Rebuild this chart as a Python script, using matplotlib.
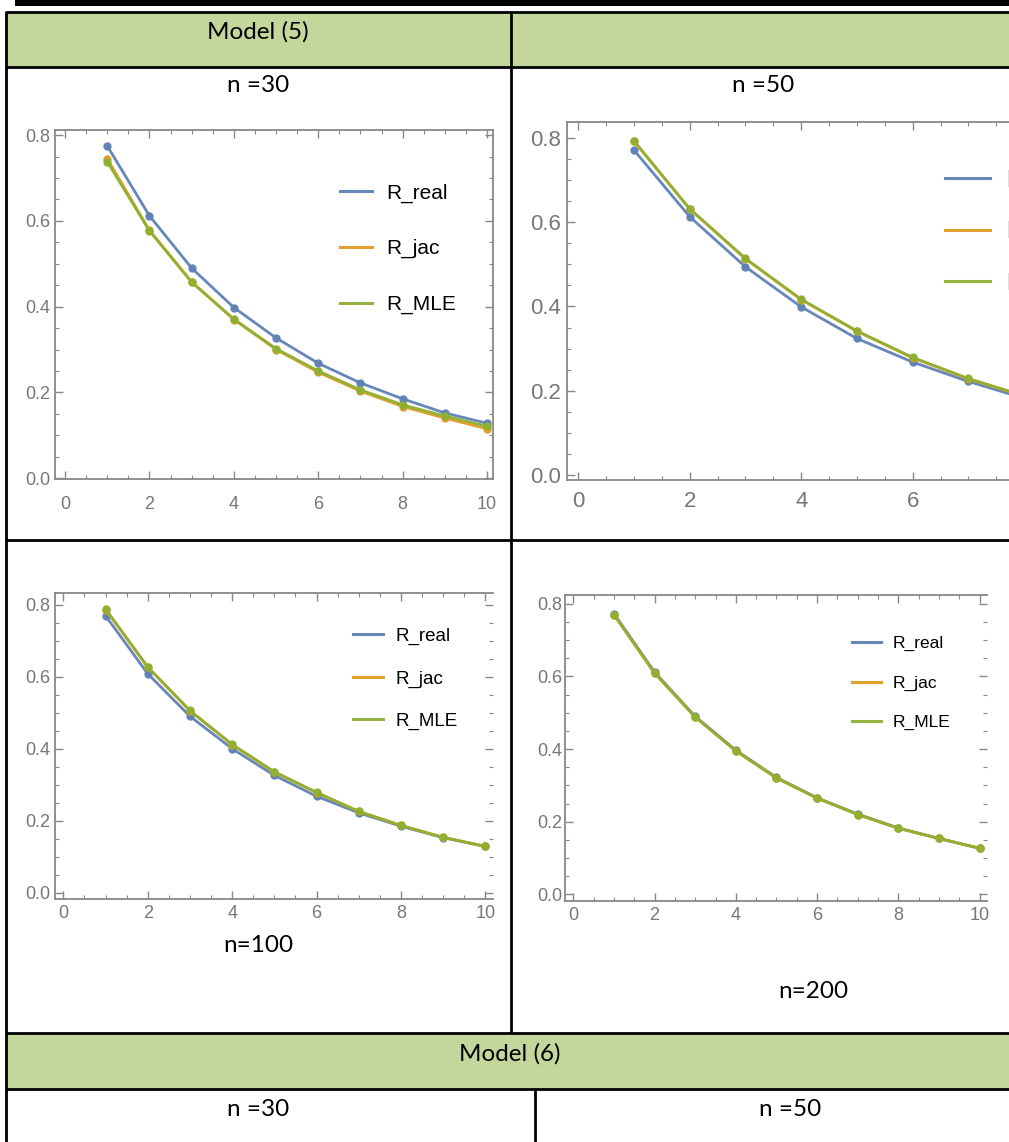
import matplotlib
matplotlib.use('Agg')
import matplotlib.pyplot as plt
from matplotlib.ticker import MultipleLocator, FuncFormatter
from matplotlib.patches import Rectangle

W, H = 1009, 1142

# reliability curves R(t), t = 1..10
t = [1, 2, 3, 4, 5, 6, 7, 8, 9, 10]

n30_real = [0.775, 0.612, 0.490, 0.398, 0.327, 0.268, 0.222, 0.185, 0.152, 0.128]
n30_jac = [0.745, 0.578, 0.458, 0.370, 0.300, 0.247, 0.203, 0.167, 0.140, 0.115]
n30_mle = [0.738, 0.577, 0.457, 0.371, 0.302, 0.250, 0.206, 0.171, 0.145, 0.121]

n50_real = [0.771, 0.613, 0.494, 0.399, 0.324, 0.268, 0.222, 0.182, 0.150, 0.124]
n50_jac = [0.792, 0.631, 0.513, 0.416, 0.341, 0.278, 0.228, 0.187, 0.155, 0.128]
n50_mle = [0.793, 0.632, 0.514, 0.417, 0.342, 0.279, 0.229, 0.188, 0.156, 0.129]

n100_real = [0.769, 0.608, 0.490, 0.400, 0.326, 0.268, 0.222, 0.185, 0.153, 0.129]
n100_jac = [0.786, 0.626, 0.505, 0.411, 0.335, 0.278, 0.226, 0.187, 0.154, 0.129]
n100_mle = [0.788, 0.627, 0.506, 0.412, 0.336, 0.279, 0.226, 0.187, 0.154, 0.129]

n200_real = [0.773, 0.612, 0.490, 0.397, 0.322, 0.266, 0.221, 0.183, 0.154, 0.127]
n200_jac = [0.770, 0.609, 0.488, 0.395, 0.321, 0.265, 0.220, 0.182, 0.154, 0.127]
n200_mle = [0.770, 0.609, 0.488, 0.395, 0.320, 0.265, 0.220, 0.182, 0.154, 0.127]

series_labels = ['R_real', 'R_jac', 'R_MLE']
series_colors = ['#5E81B5', '#E19C24', '#8FB032']

GREEN = '#C3D69B'
TABLE_FONT = ['Lato', 'DejaVu Sans']
PLOT_FONT = ['Liberation Sans', 'DejaVu Sans']

fig = plt.figure(figsize=(W / 100, H / 100), dpi=100)

# background "page" axes in pixel coordinates for the table
bg = fig.add_axes([0, 0, 1, 1])
bg.set_xlim(0, W)
bg.set_ylim(H, 0)
bg.axis('off')

bg.add_patch(Rectangle((15, 0), W - 15, 5.5, color='black', lw=0))
bg.add_patch(Rectangle((6, 12), W, 55, color=GREEN, lw=0))
bg.add_patch(Rectangle((6, 1033), W, 56, color=GREEN, lw=0))

lk = dict(color='black', lw=2.0, solid_capstyle='butt')
bg.plot([6, W], [12, 12], **lk)
bg.plot([6, W], [67, 67], **lk)
bg.plot([6, W], [540, 540], **lk)
bg.plot([6, W], [1033, 1033], **lk)
bg.plot([6, W], [1089, 1089], **lk)
bg.plot([6, 6], [11, H], **lk)
bg.plot([511, 511], [12, 1033], **lk)
bg.plot([535, 535], [1089, H], **lk)

tk = dict(ha='center', va='center', fontsize=17.5, family=TABLE_FONT)
bg.text(258, 32, 'Model (5)', **tk)
bg.text(258, 86, 'n =30', **tk)
bg.text(763, 86, 'n =50', **tk)
bg.text(258, 946, 'n=100', **tk)
bg.text(813, 991, 'n=200', **tk)
bg.text(510, 1054, 'Model (6)', **tk)
bg.text(258, 1110, 'n =30', **tk)
bg.text(790, 1110, 'n =50', **tk)


def add_plot(box, xlim, ylim, data, fs, xpad, ypad, leg_anchor, leg_fs,
             leg_space, handle_len, right_spine=True, max_xlabel=10):
    l, top, r, b = box
    ax = fig.add_axes([l / W, 1 - b / H, (r - l) / W, (b - top) / H])
    for (vals, lab, col) in zip(data, series_labels, series_colors):
        ax.plot(t, vals, color=col, lw=2.0, marker='o', ms=5, label=lab,
                alpha=0.95)
    ax.set_xlim(*xlim)
    ax.set_ylim(*ylim)
    ax.xaxis.set_major_locator(MultipleLocator(2))
    ax.xaxis.set_minor_locator(MultipleLocator(0.5))
    ax.yaxis.set_major_locator(MultipleLocator(0.2))
    ax.yaxis.set_minor_locator(MultipleLocator(0.05))
    ax.xaxis.set_major_formatter(
        FuncFormatter(lambda v, p: f'{v:.0f}' if v <= max_xlabel else ''))
    ax.yaxis.set_major_formatter(FuncFormatter(lambda v, p: f'{v:.1f}'))
    ax.tick_params(which='both', direction='in', top=True, right=True,
                   color='#888888', labelcolor='#777777', labelsize=fs)
    ax.tick_params(which='major', length=6, width=1.0)
    ax.tick_params(which='minor', length=3, width=0.8)
    ax.tick_params(axis='x', which='major', pad=xpad)
    ax.tick_params(axis='y', which='major', pad=ypad)
    for lbl in ax.get_xticklabels() + ax.get_yticklabels():
        lbl.set_family(PLOT_FONT)
    for sp in ax.spines.values():
        sp.set_color('#888888')
        sp.set_linewidth(1.3)
    if not right_spine:
        ax.spines['right'].set_visible(False)
    leg = ax.legend(loc='upper left', bbox_to_anchor=leg_anchor, frameon=False,
                    handlelength=handle_len, handletextpad=0.7,
                    labelspacing=leg_space, borderpad=0, borderaxespad=0,
                    prop={'family': PLOT_FONT, 'size': leg_fs})
    for h in leg.legend_handles:
        h.set_marker('')
        h.set_linewidth(2.2)
    return ax


add_plot((55, 130, 493, 479), (-0.237, 10.14), (-0.002, 0.812),
         [n30_real, n30_jac, n30_mle], 13, 12, 3.5,
         (0.65, 0.847), 15, 1.75, 1.55)
add_plot((567, 122, 1140, 480), (-0.203, 10.08), (-0.012, 0.838),
         [n50_real, n50_jac, n50_mle], 16, 8, 4.5,
         (0.66, 0.867), 17, 1.25, 1.9, max_xlabel=7)
add_plot((55, 593, 493, 899), (-0.197, 10.18), (-0.017, 0.832),
         [n100_real, n100_jac, n100_mle], 13, 4, 3.5,
         (0.68, 0.887), 13.5, 1.35, 1.6, right_spine=False)
add_plot((565, 595, 987, 901), (-0.204, 10.18), (-0.018, 0.824),
         [n200_real, n200_jac, n200_mle], 13, 4.5, 2,
         (0.68, 0.866), 12.5, 1.4, 1.65, right_spine=False)

fig.savefig('out.png', dpi=100, facecolor='white')
